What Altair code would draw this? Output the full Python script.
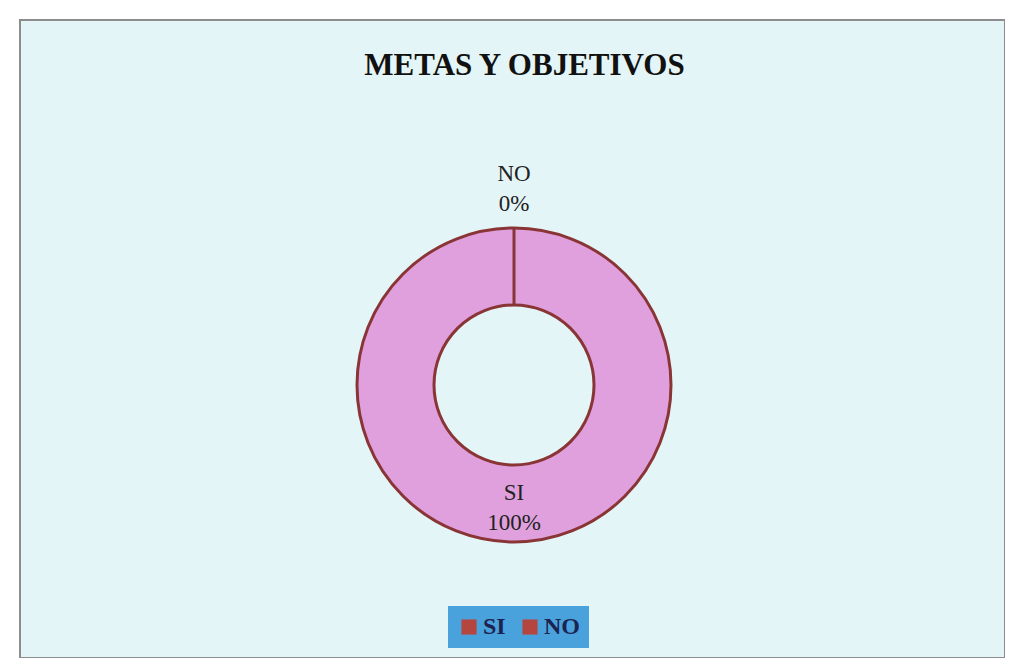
import altair as alt
import pandas as pd

categories = ["SI", "NO"]
values = [100, 0]
title_text = "METAS Y OBJETIVOS"

df = pd.DataFrame({"categoria": categories, "valor": values})

PINK = "#DFA0DD"
EDGE = "#8A3535"
LEG_RED = "#B5453F"
CX, CY = 494, 365
SERIF = "Liberation Serif"

base = alt.Chart(df).transform_calculate(
    lab="datum.categoria + '\\n' + datum.valor + '%'"
)

arcs = base.mark_arc(innerRadius=80, outerRadius=157, stroke=EDGE, strokeWidth=3).encode(
    theta=alt.Theta("valor:Q", stack=True),
    color=alt.Color("categoria:N", scale=alt.Scale(domain=categories, range=[PINK, PINK]),
                    legend=None),
    x=alt.value(CX), y=alt.value(CY),
)

legend_layer = alt.Chart(df).transform_filter("false").mark_square(
    size=230, filled=True, opacity=1
).encode(
    color=alt.Color(
        "categoria:N",
        scale=alt.Scale(domain=categories, range=[LEG_RED, LEG_RED]),
        legend=alt.Legend(
            title=None, orient="none", direction="horizontal",
            legendX=428, legendY=586, fillColor="#4AA2DD", padding=9,
            labelFont=SERIF, labelFontSize=24, labelFontWeight="bold",
            labelColor="#1B2450", symbolType="square", symbolSize=230,
            columnPadding=12, labelOffset=2, symbolStrokeWidth=0,
        ),
    ),
)

def label_layer(cat, r):
    return base.mark_text(
        font=SERIF, fontSize=23, lineHeight=30, lineBreak="\n",
        align="center", baseline="middle", color="#222222",
    ).encode(
        theta=alt.Theta("valor:Q", stack=True),
        detail="categoria:N",
        radius=alt.value(r),
        text=alt.condition(f"datum.categoria == '{cat}'", "lab:N", alt.value("")),
        x=alt.value(CX), y=alt.value(CY),
    )

chart = alt.layer(arcs, label_layer("SI", 108), label_layer("NO", 211), legend_layer).resolve_scale(
    color="independent"
).properties(
    width=985, height=638,
    padding={"left": 12, "top": 12, "right": 0, "bottom": 0},
    background="white",
    view=alt.ViewBackground(fill="#E4F5F7", stroke="#8C8C8C", strokeWidth=2),
    title=alt.TitleParams(title_text, font=SERIF, fontSize=31, fontWeight="bold",
                          color="#111111", anchor="middle", offset=-62, dx=12),
).configure_view(fill="#E4F5F7", stroke="#8C8C8C", strokeWidth=2)

chart.save("out.html", embed_options={"renderer": "svg", "actions": False})
